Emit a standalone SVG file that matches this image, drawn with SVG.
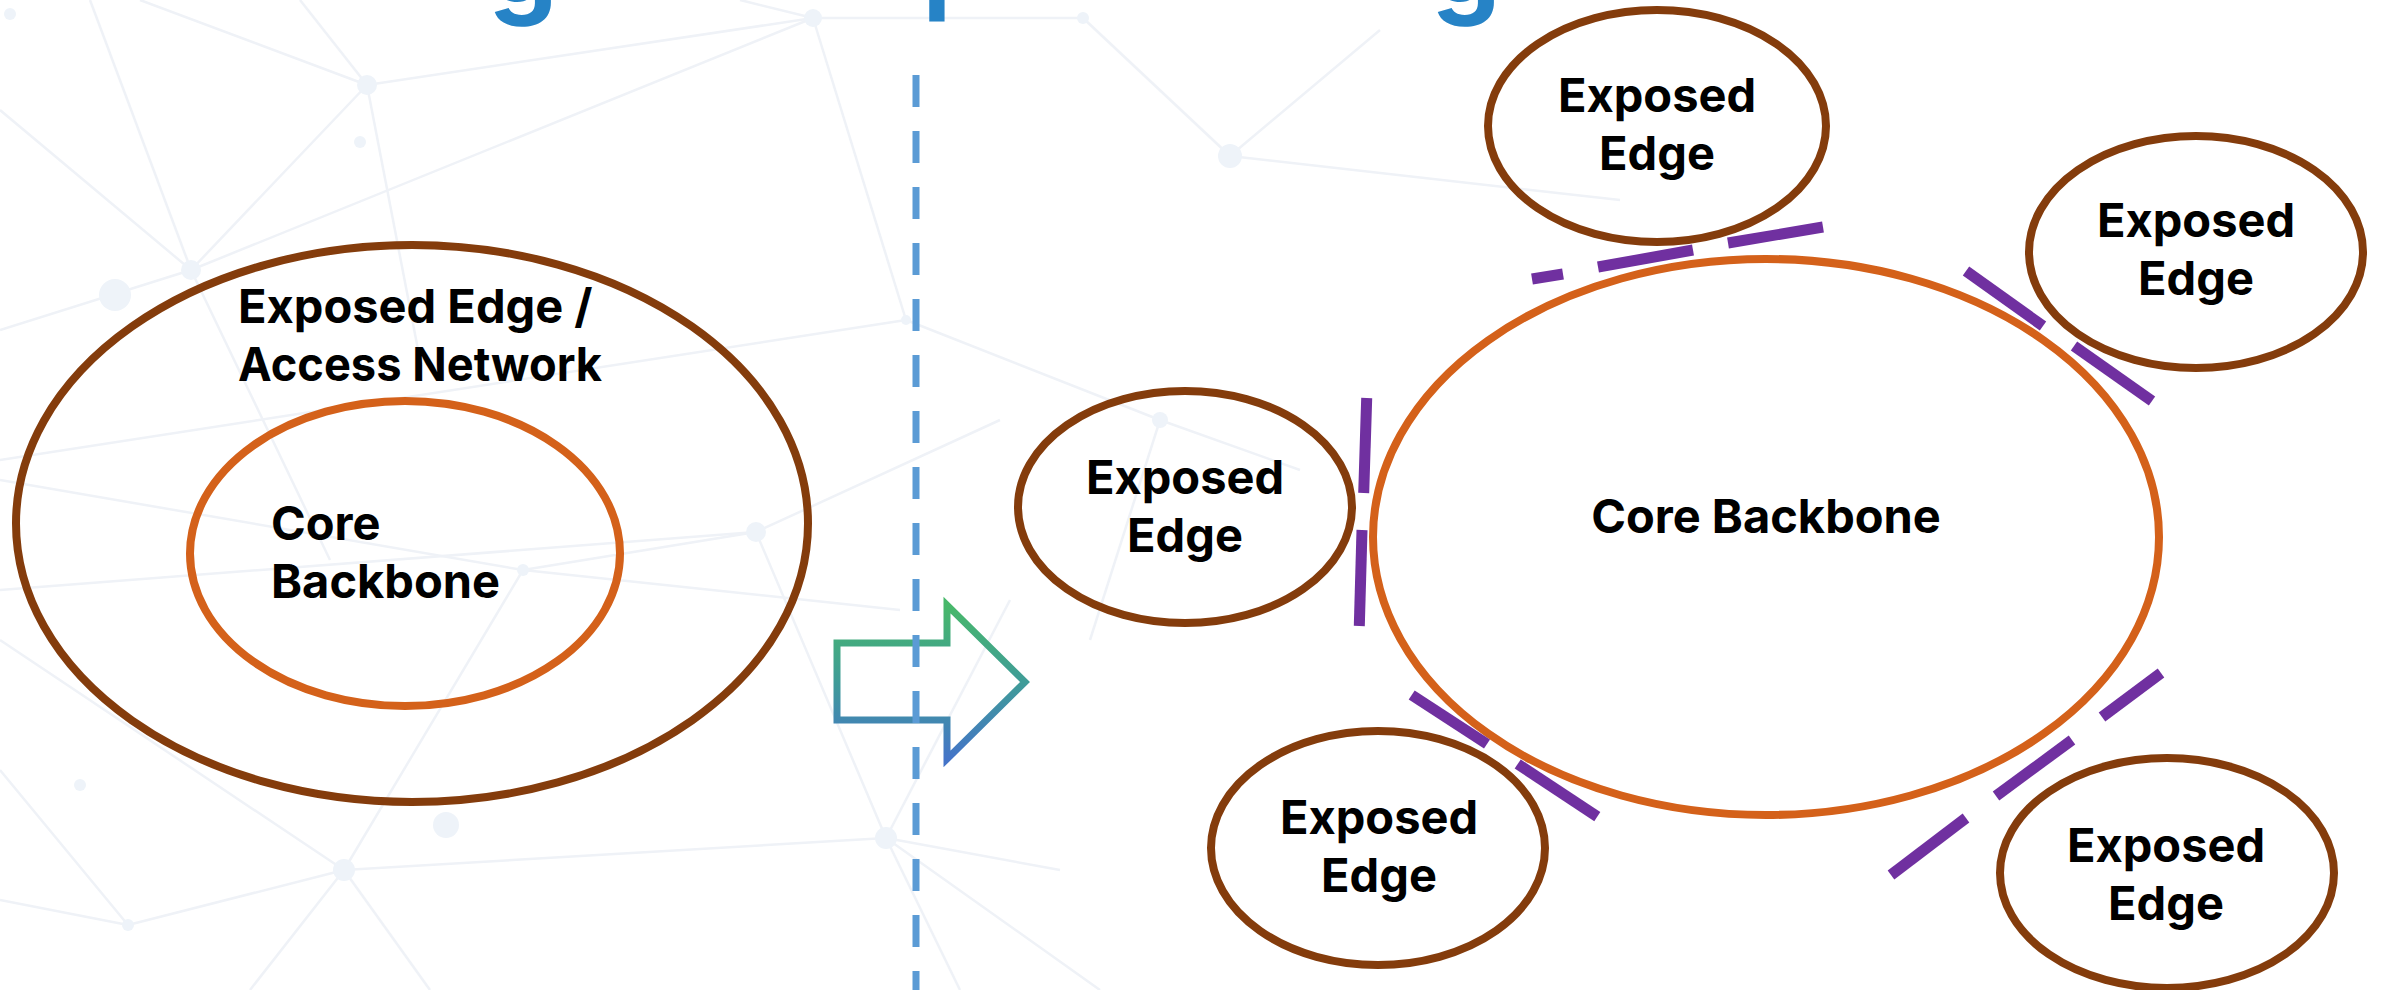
<svg xmlns="http://www.w3.org/2000/svg" width="2382" height="990" viewBox="0 0 2382 990">
  <defs>
    <linearGradient id="arrowGrad" x1="0" y1="0" x2="0" y2="1">
      <stop offset="0" stop-color="#48B86A"/>
      <stop offset="0.5" stop-color="#3F9C98"/>
      <stop offset="1" stop-color="#4474C8"/>
    </linearGradient>
    <style>
      .bgl { stroke: #EFF2F7; stroke-width: 2.5; fill: none; }
      .bgn { fill: #EEF3F9; }
      .edge { fill: none; stroke: #843C0C; stroke-width: 8; }
      .core { fill: none; stroke: #D4611A; stroke-width: 8; }
      .lbl { font-family: Inter, "Open Sans", "Liberation Sans", sans-serif; font-weight: 700; font-size: 47px; fill: #000; }
      .mid { text-anchor: middle; }
      .title { font-family: Inter, "Open Sans", "Liberation Sans", sans-serif; font-weight: 700; font-size: 110px; fill: #2683C6; }
      .fw { stroke: #7030A0; stroke-width: 11; fill: none; stroke-linecap: butt; }
    </style>
  </defs>
  <rect width="2382" height="990" fill="#FFFFFF"/>

  <g id="background">
    <line class="bgl" x1="367" y1="85" x2="813" y2="18"/>
    <line class="bgl" x1="191" y1="270" x2="813" y2="18"/>
    <line class="bgl" x1="367" y1="85" x2="191" y2="270"/>
    <line class="bgl" x1="367" y1="85" x2="300" y2="0"/>
    <line class="bgl" x1="367" y1="85" x2="140" y2="0"/>
    <line class="bgl" x1="191" y1="270" x2="0" y2="110"/>
    <line class="bgl" x1="191" y1="270" x2="90" y2="0"/>
    <line class="bgl" x1="191" y1="270" x2="0" y2="330"/>
    <line class="bgl" x1="191" y1="270" x2="330" y2="560"/>
    <line class="bgl" x1="367" y1="85" x2="420" y2="360"/>
    <line class="bgl" x1="813" y1="18" x2="1083" y2="18"/>
    <line class="bgl" x1="813" y1="18" x2="906" y2="320"/>
    <line class="bgl" x1="813" y1="18" x2="740" y2="0"/>
    <line class="bgl" x1="0" y1="460" x2="906" y2="320"/>
    <line class="bgl" x1="906" y1="320" x2="1160" y2="420"/>
    <line class="bgl" x1="0" y1="590" x2="756" y2="532"/>
    <line class="bgl" x1="756" y1="532" x2="1000" y2="420"/>
    <line class="bgl" x1="523" y1="570" x2="756" y2="532"/>
    <line class="bgl" x1="523" y1="570" x2="900" y2="610"/>
    <line class="bgl" x1="523" y1="570" x2="0" y2="480"/>
    <line class="bgl" x1="344" y1="870" x2="886" y2="838"/>
    <line class="bgl" x1="344" y1="870" x2="128" y2="925"/>
    <line class="bgl" x1="344" y1="870" x2="0" y2="640"/>
    <line class="bgl" x1="344" y1="870" x2="523" y2="570"/>
    <line class="bgl" x1="344" y1="870" x2="250" y2="990"/>
    <line class="bgl" x1="344" y1="870" x2="430" y2="990"/>
    <line class="bgl" x1="128" y1="925" x2="0" y2="900"/>
    <line class="bgl" x1="128" y1="925" x2="0" y2="770"/>
    <line class="bgl" x1="886" y1="838" x2="756" y2="532"/>
    <line class="bgl" x1="886" y1="838" x2="1010" y2="600"/>
    <line class="bgl" x1="886" y1="838" x2="1100" y2="990"/>
    <line class="bgl" x1="886" y1="838" x2="960" y2="990"/>
    <line class="bgl" x1="886" y1="838" x2="1060" y2="870"/>
    <line class="bgl" x1="1083" y1="18" x2="1230" y2="156"/>
    <line class="bgl" x1="1230" y1="156" x2="1380" y2="30"/>
    <line class="bgl" x1="1230" y1="156" x2="1620" y2="200"/>
    <line class="bgl" x1="1160" y1="420" x2="1300" y2="470"/>
    <line class="bgl" x1="1160" y1="420" x2="1090" y2="640"/>
    <circle class="bgn" cx="367" cy="85" r="10"/>
    <circle class="bgn" cx="191" cy="270" r="10"/>
    <circle class="bgn" cx="813" cy="18" r="9"/>
    <circle class="bgn" cx="756" cy="532" r="10"/>
    <circle class="bgn" cx="523" cy="570" r="6"/>
    <circle class="bgn" cx="344" cy="870" r="11"/>
    <circle class="bgn" cx="128" cy="925" r="6"/>
    <circle class="bgn" cx="886" cy="838" r="11"/>
    <circle class="bgn" cx="906" cy="320" r="5"/>
    <circle class="bgn" cx="1083" cy="18" r="6"/>
    <circle class="bgn" cx="1230" cy="156" r="12"/>
    <circle class="bgn" cx="360" cy="142" r="6"/>
    <circle class="bgn" cx="446" cy="825" r="13"/>
    <circle class="bgn" cx="115" cy="295" r="16"/>
    <circle class="bgn" cx="80" cy="785" r="6"/>
    <circle class="bgn" cx="1160" cy="420" r="8"/>
    <circle class="bgn" cx="10" cy="14" r="6"/>
  </g>

  <g id="title-fragments">
    <text class="title" x="523" y="3" text-anchor="middle">g</text>
    <text class="title" x="937" y="-4" text-anchor="middle">|</text>
    <text class="title" x="1466" y="3" text-anchor="middle">g</text>
  </g>

  <g id="left-exposed-edge">
    <ellipse class="edge" cx="412" cy="523.5" rx="396" ry="278.5"/>
    <text class="lbl" x="238" y="323">Exposed Edge /</text>
    <text class="lbl" x="238" y="381" textLength="364" lengthAdjust="spacingAndGlyphs">Access Network</text>
  </g>
  <g id="left-core">
    <ellipse class="core" cx="405" cy="553.5" rx="215" ry="152.5"/>
    <text class="lbl" x="271" y="540">Core</text>
    <text class="lbl" x="271" y="598">Backbone</text>
  </g>

  <g id="transition-arrow">
    <polygon points="837,643 947,643 947,605 1025,682 947,759 947,720 837,720" fill="none" stroke="url(#arrowGrad)" stroke-width="7" stroke-linejoin="miter"/>
  </g>

  <g id="divider">
    <line x1="916" y1="75" x2="916" y2="990" stroke="#5B9BD5" stroke-width="7" stroke-dasharray="32 24"/>
  </g>

  <g id="core-backbone">
    <ellipse class="core" cx="1766" cy="537" rx="393" ry="278"/>
    <text class="lbl mid" x="1766" y="533">Core Backbone</text>
  </g>
  <g id="edge-top">
    <ellipse class="edge" cx="1657" cy="126" rx="169" ry="116"/>
    <text class="lbl mid" x="1657" y="112">Exposed</text>
    <text class="lbl mid" x="1657" y="170">Edge</text>
  </g>
  <g id="edge-top-right">
    <ellipse class="edge" cx="2196" cy="252" rx="167" ry="116"/>
    <text class="lbl mid" x="2196" y="237">Exposed</text>
    <text class="lbl mid" x="2196" y="295">Edge</text>
  </g>
  <g id="edge-left">
    <ellipse class="edge" cx="1185" cy="507" rx="167" ry="116"/>
    <text class="lbl mid" x="1185" y="494">Exposed</text>
    <text class="lbl mid" x="1185" y="552">Edge</text>
  </g>
  <g id="edge-bottom-left">
    <ellipse class="edge" cx="1378" cy="848" rx="167" ry="117"/>
    <text class="lbl mid" x="1379" y="834">Exposed</text>
    <text class="lbl mid" x="1379" y="892">Edge</text>
  </g>
  <g id="edge-bottom-right">
    <ellipse class="edge" cx="2167" cy="873" rx="167" ry="115"/>
    <text class="lbl mid" x="2166" y="862">Exposed</text>
    <text class="lbl mid" x="2166" y="920">Edge</text>
  </g>

  <g id="connectors">
    <line class="fw" x1="1532" y1="279" x2="1563" y2="274"/>
    <line class="fw" x1="1598" y1="267" x2="1693" y2="250"/>
    <line class="fw" x1="1728" y1="243" x2="1823" y2="227"/>
    <line class="fw" x1="1966" y1="271" x2="2043" y2="326"/>
    <line class="fw" x1="2074" y1="346" x2="2152" y2="401"/>
    <line class="fw" x1="1366.7" y1="398" x2="1363.7" y2="493"/>
    <line class="fw" x1="1362" y1="530" x2="1359.3" y2="626"/>
    <line class="fw" x1="1411.7" y1="695" x2="1487" y2="744"/>
    <line class="fw" x1="1517.7" y1="764" x2="1597.3" y2="816.7"/>
    <line class="fw" x1="2161" y1="673" x2="2102" y2="717"/>
    <line class="fw" x1="2072" y1="740" x2="1996" y2="796"/>
    <line class="fw" x1="1966" y1="818" x2="1891" y2="875"/>
  </g>
</svg>
